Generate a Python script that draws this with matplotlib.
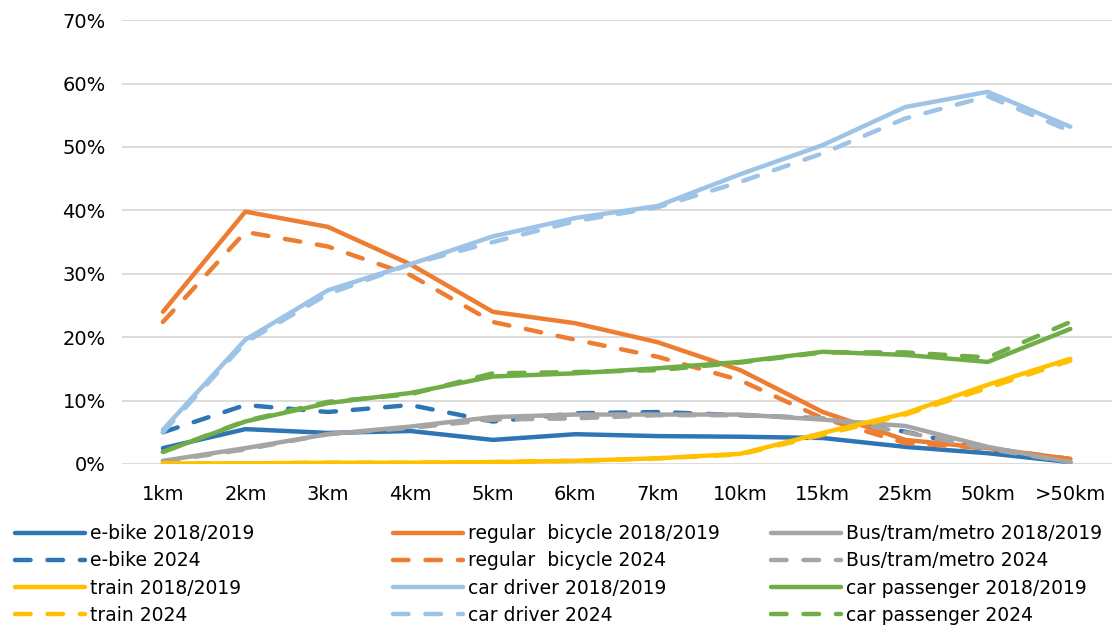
import matplotlib.pyplot as plt
from matplotlib.ticker import PercentFormatter

plt.rcParams['font.family'] = ['DejaVu Sans']

distances = ['1km', '2km', '3km', '4km', '5km', '6km', '7km',
             '10km', '15km', '25km', '50km', '>50km']

# share of trips per mode (%), per distance class
ebike_1819 = [2.5, 5.5, 4.9, 5.2, 3.8, 4.7, 4.4, 4.3, 4.1, 2.7, 1.7, 0.3]
ebike_2024 = [5.0, 9.3, 8.2, 9.3, 6.7, 8.0, 8.2, 7.7, 7.2, 5.1, 2.2, 0.3]
bicycle_1819 = [24.0, 39.8, 37.4, 31.5, 24.0, 22.2, 19.2, 14.8, 8.2, 3.8, 2.5, 0.8]
bicycle_2024 = [22.4, 36.6, 34.3, 29.8, 22.4, 19.6, 16.9, 13.2, 7.2, 3.3, 2.5, 0.8]
bus_1819 = [0.5, 2.5, 4.7, 5.9, 7.4, 7.8, 7.8, 7.8, 7.0, 6.0, 2.7, 0.3]
bus_2024 = [0.4, 2.3, 4.7, 5.7, 7.0, 7.2, 7.7, 7.7, 7.2, 5.0, 2.4, 0.3]
train_1819 = [0.1, 0.1, 0.2, 0.2, 0.3, 0.5, 0.9, 1.6, 4.9, 8.0, 12.5, 16.6]
train_2024 = [0.1, 0.1, 0.2, 0.2, 0.3, 0.5, 0.9, 1.5, 4.6, 7.8, 12.0, 16.3]
driver_1819 = [5.4, 19.6, 27.4, 31.5, 35.9, 38.8, 40.7, 45.7, 50.3, 56.3, 58.7, 53.2]
driver_2024 = [5.0, 19.2, 26.8, 31.5, 35.0, 38.3, 40.5, 44.5, 49.0, 54.5, 58.0, 52.5]
passenger_1819 = [1.9, 6.7, 9.6, 11.2, 13.8, 14.3, 15.1, 16.1, 17.7, 17.2, 16.1, 21.3]
passenger_2024 = [1.9, 6.8, 9.8, 11.0, 14.3, 14.5, 14.8, 16.0, 17.6, 17.6, 16.8, 22.4]

series = [
    ('e-bike', '#2E75B6', ebike_1819, ebike_2024),
    ('regular  bicycle', '#ED7D31', bicycle_1819, bicycle_2024),
    ('Bus/tram/metro', '#A5A5A5', bus_1819, bus_2024),
    ('train', '#FFC000', train_1819, train_2024),
    ('car driver', '#9DC3E6', driver_1819, driver_2024),
    ('car passenger', '#70AD47', passenger_1819, passenger_2024),
]

dash = (0, (3.5, 3.8))
lw = 3.2

fig = plt.figure(figsize=(11.16, 6.3), dpi=100)
ax = fig.add_axes([0.109, 0.2635, 0.887, 0.7045])

x = range(len(distances))
handles = {}
for name, color, old, new in series:
    h1, = ax.plot(x, old, color=color, lw=lw, solid_capstyle='round',
                  solid_joinstyle='round', label=f'{name} 2018/2019')
    h2, = ax.plot(x, new, color=color, lw=lw, linestyle=dash,
                  dash_capstyle='round', label=f'{name} 2024')
    handles[name] = (h1, h2)

ax.set_xlim(-0.5, 11.5)
ax.set_ylim(0, 70)
ax.set_yticks(range(0, 71, 10))
ax.yaxis.set_major_formatter(PercentFormatter(decimals=0))
ax.set_xticks(list(x))
ax.set_xticklabels(distances)
ax.tick_params(length=0, labelsize=14, colors='#000000')
ax.tick_params(axis='y', pad=11.5)
ax.tick_params(axis='x', pad=15)
ax.grid(axis='y', color='#d9d9d9', lw=1.3)
ax.set_axisbelow(True)
for s in ax.spines.values():
    s.set_visible(False)

# three legend columns, each listing four series
columns = [
    ['e-bike', 'train'],
    ['regular  bicycle', 'car driver'],
    ['Bus/tram/metro', 'car passenger'],
]
col_x = [0.0134, 0.352, 0.691]
for cx, names in zip(col_x, columns):
    hs = []
    for n in names:
        hs.extend(handles[n])
    fig.legend(handles=hs, labels=[h.get_label() for h in hs],
               loc='upper left', bbox_to_anchor=(cx, 0.168),
               frameon=False, fontsize=13.5, handlelength=3.73,
               handletextpad=0.27, labelspacing=0.44,
               borderaxespad=0, borderpad=0)

fig.savefig('out.png', dpi=100)
plt.close(fig)
